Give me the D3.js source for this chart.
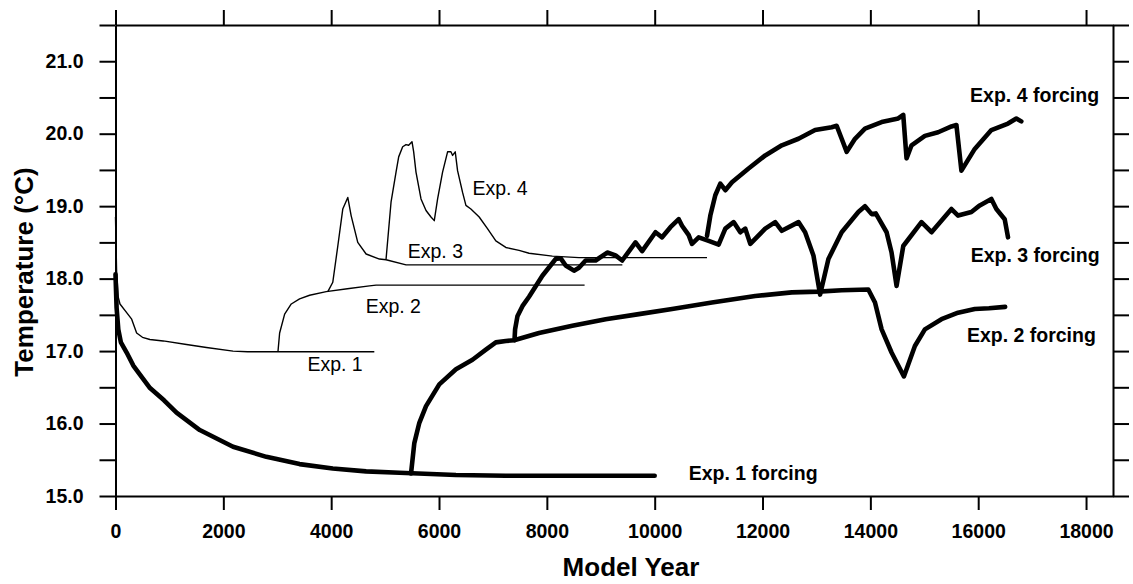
<!DOCTYPE html>
<html>
<head>
<meta charset="utf-8">
<script src="https://cdn.jsdelivr.net/npm/d3@7"></script>
<style>
  html, body { margin: 0; padding: 0; background: #fff; }
  svg { display: block; font-family: "Liberation Sans", Arial, Helvetica, sans-serif; }
  .axis path, .axis line { stroke: #000; stroke-width: 2; }
  .axis text { font-size: 19.5px; font-weight: bold; fill: #000; }
  .run-thin { fill: none; stroke: #000; stroke-width: 1.4; stroke-linejoin: round; }
  .run-thick { fill: none; stroke: #000; stroke-width: 4.6; stroke-linejoin: round; stroke-linecap: round; }
  .lbl { font-size: 19.5px; fill: #000; }
  .lbl-bold { font-size: 19.5px; font-weight: bold; fill: #000; }
  .title { font-size: 26px; font-weight: bold; fill: #000; }
</style>
</head>
<body>
<div id="chart"></div>
<script>
(function () {
  "use strict";

  // ── Data: [model year, temperature °C] ─────────────
  const exp1 = [[0,18.85],[20,18.1],[52,17.74],[83,17.65],[207,17.53],[300,17.44],[392,17.25],[500,17.19],
    [638,17.16],[885,17.14],[1317,17.09],[1687,17.05],[2180,17.0],[2450,16.99],[4800,16.99]];

  const exp2 = [[3013,16.99],[3044,17.25],[3137,17.51],[3260,17.65],[3414,17.72],[3600,17.77],[3908,17.82],
    [4300,17.86],[4710,17.9],[4833,17.91],[8700,17.91]];

  const exp3 = [[3938,17.82],[4030,17.95],[4123,18.45],[4215,18.96],[4308,19.12],[4370,18.87],[4493,18.5],
    [4648,18.34],[4895,18.27],[5018,18.26],[5389,18.19],[9400,18.19]];

  const exp4 = [[5018,18.27],[5111,19.06],[5203,19.47],[5252,19.68],[5326,19.82],[5388,19.85],[5437,19.84],
    [5499,19.89],[5530,19.75],[5573,19.47],[5666,19.1],[5759,18.94],[5851,18.85],[5912,18.8],[5974,19.1],
    [6066,19.47],[6159,19.75],[6221,19.75],[6252,19.7],[6301,19.75],[6344,19.49],[6437,19.19],[6499,19.01],
    [6591,18.96],[6745,18.85],[6899,18.69],[7054,18.52],[7239,18.43],[7485,18.39],[7670,18.35],[8102,18.31],
    [8596,18.29],[10970,18.29]];

  const exp1Forcing = [[0,18.06],[20,17.6],[52,17.3],[100,17.12],[207,16.98],[330,16.8],[450,16.68],[640,16.49],
    [900,16.32],[1132,16.15],[1563,15.91],[2180,15.68],[2798,15.54],[3414,15.44],[4030,15.38],[4648,15.34],
    [5265,15.32],[6314,15.29],[7239,15.28],[10000,15.28]];

  const exp2Forcing = [[5481,15.31],[5542,15.73],[5635,16.01],[5759,16.24],[6005,16.54],[6314,16.75],[6621,16.88],
    [6869,17.02],[7054,17.12],[7239,17.14],[7393,17.15],[7855,17.25],[8472,17.35],[9090,17.44],[9706,17.51],
    [10322,17.58],[11062,17.67],[11865,17.76],[12543,17.81],[13037,17.82],[13468,17.84],[13962,17.85],
    [14086,17.67],[14209,17.3],[14393,16.98],[14622,16.65],[14826,17.07],[15011,17.3],[15319,17.44],
    [15627,17.53],[15936,17.58],[16200,17.59],[16500,17.61]];

  const exp3Forcing = [[7400,17.15],[7411,17.3],[7454,17.48],[7547,17.62],[7670,17.75],[7917,18.04],[8164,18.27],
    [8257,18.28],[8349,18.18],[8503,18.11],[8596,18.15],[8719,18.25],[8904,18.25],[9120,18.36],[9274,18.32],
    [9397,18.25],[9644,18.5],[9767,18.38],[10015,18.64],[10137,18.57],[10292,18.71],[10446,18.82],[10507,18.73],
    [10631,18.6],[10692,18.48],[10816,18.57],[11001,18.52],[11186,18.47],[11310,18.69],[11464,18.78],
    [11588,18.64],[11680,18.69],[11773,18.48],[12050,18.69],[12235,18.78],[12358,18.66],[12667,18.78],
    [12790,18.64],[12944,18.32],[13068,17.78],[13222,18.27],[13468,18.64],[13777,18.92],[13900,19.0],
    [14024,18.89],[14100,18.9],[14301,18.64],[14393,18.36],[14486,17.9],[14610,18.45],[14948,18.78],
    [15134,18.64],[15504,18.96],[15627,18.87],[15874,18.92],[16029,19.01],[16244,19.1],[16337,18.96],
    [16491,18.82],[16553,18.57]];

  const exp4Forcing = [[10970,18.59],[11032,18.87],[11124,19.15],[11217,19.31],[11310,19.22],[11433,19.33],
    [11741,19.52],[12050,19.7],[12358,19.84],[12667,19.93],[12975,20.05],[13283,20.09],[13375,20.11],
    [13468,19.93],[13561,19.75],[13715,19.93],[13900,20.07],[14209,20.16],[14517,20.21],[14610,20.26],
    [14671,19.66],[14764,19.84],[15011,19.97],[15257,20.02],[15504,20.1],[15596,20.12],[15689,19.49],
    [15936,19.79],[16244,20.05],[16553,20.14],[16707,20.21],[16799,20.17]];

  const yTicks = [15, 15.5, 16, 16.5, 17, 17.5, 18, 18.5, 19, 19.5, 20, 20.5, 21, 21.5];
  const xTicks = [0, 2000, 4000, 6000, 8000, 10000, 12000, 14000, 16000, 18000];

  // label text with anchor point [year, temp]
  const thinLabels = [
    { text: "Exp. 1", at: [3560, 16.73] },
    { text: "Exp. 2", at: [4640, 17.53] },
    { text: "Exp. 3", at: [5420, 18.29] },
    { text: "Exp. 4", at: [6620, 19.16] }
  ];
  const boldLabels = [
    { text: "Exp. 1 forcing", at: [10630, 15.22] },
    { text: "Exp. 2 forcing", at: [15790, 17.13] },
    { text: "Exp. 3 forcing", at: [15860, 18.23] },
    { text: "Exp. 4 forcing", at: [15850, 20.44] }
  ];

  // ── Layout ─────────────────────────────────────────
  const width = 1133, height = 584;
  const M = { left: 115.5, right: 1113, top: 25, bottom: 496 };

  const svg = d3.select("#chart").append("svg")
    .attr("width", width).attr("height", height);

  const x = d3.scaleLinear().domain([0, 18500]).range([M.left, M.right]);
  const y = d3.scaleLinear().domain([15, 21.5]).range([M.bottom, M.top]);

  // ── Axes (ticks outward on all four sides) ─────────
  svg.append("g").attr("class", "axis")
    .attr("transform", `translate(${M.left},0)`)
    .call(d3.axisLeft(y).tickValues(yTicks).tickSize(16).tickSizeOuter(0).tickPadding(16)
      .tickFormat(d => Number.isInteger(d) ? d.toFixed(1) : ""));

  svg.append("g").attr("class", "axis")
    .attr("transform", `translate(${M.right},0)`)
    .call(d3.axisRight(y).tickValues(yTicks).tickSize(16).tickSizeOuter(0).tickFormat(""));

  svg.append("g").attr("class", "axis")
    .attr("transform", `translate(0,${M.bottom})`)
    .call(d3.axisBottom(x).tickValues(xTicks).tickSize(14).tickSizeOuter(0).tickPadding(14)
      .tickFormat(d3.format("d")));

  svg.append("g").attr("class", "axis")
    .attr("transform", `translate(0,${M.top})`)
    .call(d3.axisTop(x).tickValues(xTicks).tickSize(15).tickSizeOuter(0).tickFormat(""));

  // ── Curves ─────────────────────────────────────────
  const line = d3.line().x(d => x(d[0])).y(d => y(d[1]));

  [exp1, exp2, exp3, exp4].forEach(s => {
    svg.append("path").attr("class", "run-thin").attr("d", line(s));
  });
  [exp1Forcing, exp2Forcing, exp3Forcing, exp4Forcing].forEach(s => {
    svg.append("path").attr("class", "run-thick").attr("d", line(s));
  });

  // ── Labels ─────────────────────────────────────────
  svg.selectAll(".lbl").data(thinLabels).join("text")
    .attr("class", "lbl")
    .attr("x", d => x(d.at[0])).attr("y", d => y(d.at[1]))
    .text(d => d.text);

  svg.selectAll(".lbl-bold").data(boldLabels).join("text")
    .attr("class", "lbl-bold")
    .attr("x", d => x(d.at[0])).attr("y", d => y(d.at[1]))
    .text(d => d.text);

  // Axis titles
  svg.append("text").attr("class", "title")
    .attr("x", 631).attr("y", 576).attr("text-anchor", "middle")
    .text("Model Year");

  svg.append("text").attr("class", "title")
    .attr("transform", "translate(33,272) rotate(-90)")
    .attr("text-anchor", "middle")
    .text("Temperature (°C)");
})();
</script>
</body>
</html>
